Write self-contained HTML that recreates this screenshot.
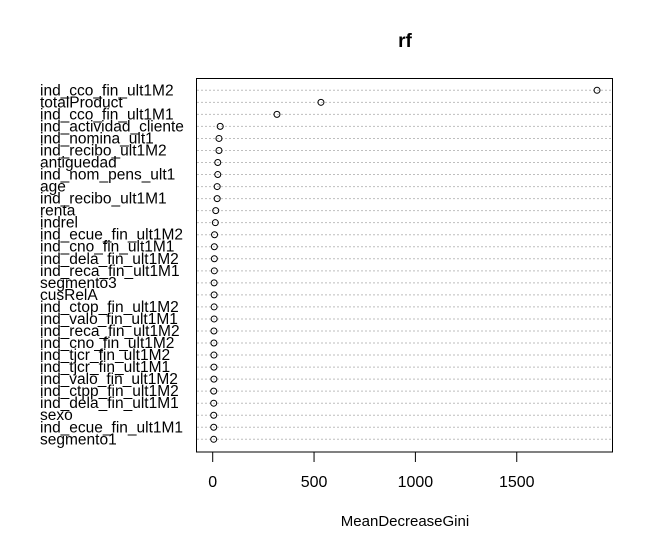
<!DOCTYPE html>
<html><head><meta charset="utf-8"><style>
html,body{margin:0;padding:0;background:#fff;}
svg{display:block;font-family:"Liberation Sans",Arial,sans-serif;}
</style></head><body>
<svg id="chart" width="653" height="550" viewBox="0 0 653 550">
<text x="405" y="47" text-anchor="middle" font-size="19" font-weight="bold">rf</text>
<rect x="196.5" y="78.5" width="416" height="373.5" fill="none" stroke="#000" stroke-width="1"/>
<g id="rows"></g>
<g id="xaxis"></g>
<text x="405" y="526" text-anchor="middle" font-size="15">MeanDecreaseGini</text>
</svg>
<script>
const labels = ["ind_cco_fin_ult1M2","totalProduct","ind_cco_fin_ult1M1","ind_actividad_cliente","ind_nomina_ult1","ind_recibo_ult1M2","antiguedad","ind_nom_pens_ult1","age","ind_recibo_ult1M1","renta","indrel","ind_ecue_fin_ult1M2","ind_cno_fin_ult1M1","ind_dela_fin_ult1M2","ind_reca_fin_ult1M1","segmento3","cusRelA","ind_ctop_fin_ult1M2","ind_valo_fin_ult1M1","ind_reca_fin_ult1M2","ind_cno_fin_ult1M2","ind_tjcr_fin_ult1M2","ind_tjcr_fin_ult1M1","ind_valo_fin_ult1M2","ind_ctpp_fin_ult1M2","ind_dela_fin_ult1M1","sexo","ind_ecue_fin_ult1M1","segmento1"];
const values = [1896,534,317,37,31,31,25,25,22,22,15,13,9,8,8,8,7,7,7,7,6,6,6,6,6,5,5,5,5,5];
const xTicks = [0,500,1000,1500];
const xTickLabels = ["0","500","1000","1500"];
const NS="http://www.w3.org/2000/svg";
const x = v => 212.7 + v*0.2027;
const y = i => 90.3 + i*(439.3-90.3)/(labels.length-1);
const rows=document.getElementById('rows');
labels.forEach((lab,i)=>{
  const ln=document.createElementNS(NS,'line');
  
  
  ln.setAttribute('x1',197);ln.setAttribute('x2',612);
  ln.setAttribute('y1',y(i));ln.setAttribute('y2',y(i));
  ln.setAttribute('stroke','#bebebe');ln.setAttribute('stroke-dasharray','2,2');
  rows.appendChild(ln);
  const t=document.createElementNS(NS,'text');
  
  
  t.setAttribute('x',40);t.setAttribute('y',y(i)+5);t.setAttribute('font-size','15.5');
  t.textContent=lab;rows.appendChild(t);
  const c=document.createElementNS(NS,'circle');
  
  
  c.setAttribute('cx',x(values[i]));c.setAttribute('cy',y(i));c.setAttribute('r',3);
  c.setAttribute('fill','none');c.setAttribute('stroke','#000');
  rows.appendChild(c);
});
const xa=document.getElementById('xaxis');
xTicks.forEach((v,i)=>{
  const tk=document.createElementNS(NS,'line');
  
  
  tk.setAttribute('x1',x(v));tk.setAttribute('x2',x(v));
  tk.setAttribute('y1',452);tk.setAttribute('y2',462);tk.setAttribute('stroke','#000');
  xa.appendChild(tk);
  const t=document.createElementNS(NS,'text');
  
  
  t.setAttribute('x',x(v));t.setAttribute('y',487);t.setAttribute('text-anchor','middle');t.setAttribute('font-size','16');
  t.textContent=xTickLabels[i];xa.appendChild(t);
});
</script>
</body></html>
